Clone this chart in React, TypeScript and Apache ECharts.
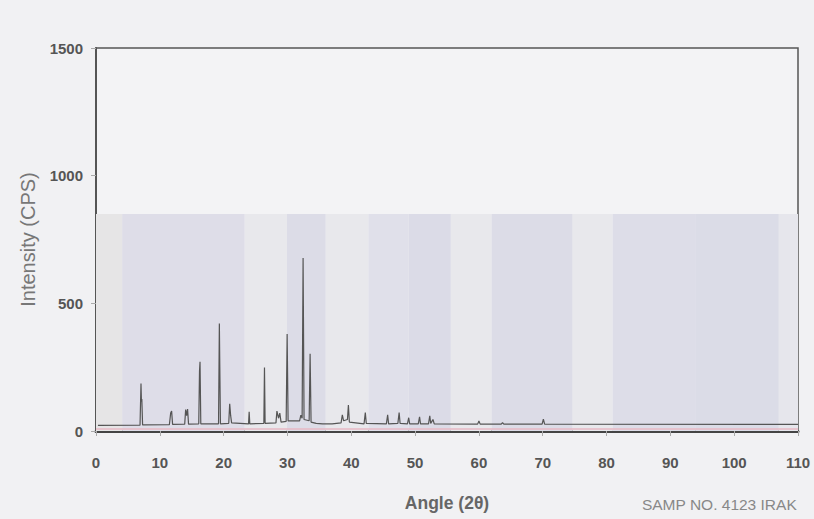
import React, { useEffect, useRef } from "react";
import * as echarts from "echarts";

// Diffraction pattern points (2θ in degrees, intensity in CPS)
const angles = [
  0.3, 6.9, 7.05, 7.12, 7.18, 7.3, 11.5, 11.7, 11.85, 12.0, 13.9, 14.05, 14.2, 14.35, 14.5,
  16.1, 16.22, 16.3, 16.42, 19.2, 19.33, 19.4, 19.5, 20.8, 20.95, 21.1, 21.25, 23.9, 24.0, 24.1,
  26.3, 26.4, 26.5, 28.2, 28.35, 28.6, 28.8, 29.0, 29.8, 29.95, 30.1, 31.9, 32.1, 32.3, 32.45,
  32.6, 33.4, 33.55, 33.7, 34.5, 35.5, 37.0, 38.4, 38.6, 38.8, 39.4, 39.55, 39.7, 42.0, 42.2,
  42.35, 45.5, 45.7, 45.85, 47.3, 47.5, 47.65, 48.8, 49.0, 49.15, 50.5, 50.7, 50.85, 52.1, 52.3,
  52.45, 52.8, 53.0, 59.8, 60.0, 60.2, 63.5, 63.7, 63.9, 69.9, 70.1, 70.3, 110.0,
];
const intensities = [
  22, 23, 186, 115, 125, 24, 25, 70, 78, 26, 27, 84, 60, 86, 27,
  28, 235, 271, 28, 28, 421, 250, 28, 30, 107, 60, 32, 28, 75, 28,
  30, 249, 30, 32, 78, 50, 70, 35, 38, 380, 40, 40, 62, 50, 678,
  45, 40, 303, 35, 30, 28, 28, 32, 63, 40, 45, 102, 35, 28, 72,
  30, 28, 63, 28, 30, 72, 30, 28, 52, 28, 28, 55, 28, 28, 59,
  30, 45, 28, 27, 39, 27, 27, 33, 27, 27, 46, 27, 26,
];
const xTicks = [0, 110, 10];
const yTicks = [0, 1500, 500];
const xTitle = "Angle (2θ)";
const yTitle = "Intensity (CPS)";
const sampleNote = "SAMP NO. 4123 IRAK";

export default function App() {
  const ref = useRef<HTMLDivElement>(null);
  useEffect(() => {
    if (!ref.current) return;
    const chart = echarts.init(ref.current, undefined, { renderer: "svg" });
    const points = angles.map((a, i) => [a, intensities[i]]);
    const bandTop = 850;
    const lav = "#dedde8";
    const light = "#e8e8ec";
    const bands: [number, number, string][] = [
      [0, 4.1, "#e6e5e6"],
      [4.1, 23.3, lav],
      [23.3, 29.9, light],
      [29.9, 36, "#dcdce7"],
      [36, 42.7, light],
      [42.7, 49, "#e0e0ea"],
      [49, 55.6, "#dbdbe7"],
      [55.6, 62, light],
      [62, 74.7, "#dcdce7"],
      [74.7, 81, light],
      [81, 94, "#dddde8"],
      [94, 107, "#dbdce7"],
      [107, 110, "#e6e6ec"],
    ];
    chart.setOption({
      animation: false,
      backgroundColor: "#f1f1f3",
      grid: {
        left: 96,
        right: 16,
        top: 48,
        bottom: 88,
        show: true,
        borderColor: "#555",
        borderWidth: 1.5,
        backgroundColor: "#f3f3f5",
      },
      xAxis: {
        type: "value",
        min: xTicks[0],
        max: xTicks[1],
        interval: xTicks[2],
        name: xTitle,
        nameLocation: "middle",
        nameGap: 63,
        nameTextStyle: { fontFamily: "Liberation Sans, Arial", fontSize: 17.5, fontWeight: "bold", color: "#666" },
        axisLine: { show: true, onZero: false, lineStyle: { color: "#444", width: 3 } },
        axisTick: { show: true, length: 5, lineStyle: { color: "#aaa" } },
        axisLabel: { margin: 24, fontFamily: "Liberation Sans, Arial", fontSize: 15, fontWeight: "bold", color: "#555" },
        splitLine: { show: false },
      },
      yAxis: {
        type: "value",
        min: yTicks[0],
        max: yTicks[1],
        interval: yTicks[2],
        name: yTitle,
        nameLocation: "middle",
        nameGap: 58,
        nameTextStyle: { fontFamily: "Liberation Sans, Arial", fontSize: 20, color: "#777" },
        axisLine: { show: true, lineStyle: { color: "#555", width: 2 } },
        axisTick: { show: true, length: 5, lineStyle: { color: "#aaa" } },
        axisLabel: {
          margin: 13,
          formatter: (v: number) => String(v),
          fontFamily: "Liberation Sans, Arial",
          fontSize: 15,
          fontWeight: "bold",
          color: "#555",
        },
        splitLine: { show: false },
      },
      series: [
        {
          type: "line",
          data: points,
          showSymbol: false,
          lineStyle: { color: "#555", width: 1.2 },
          markArea: {
            silent: true,
            data: bands.map(([a, b, c]) => [
              { xAxis: a, yAxis: 0, itemStyle: { color: c, opacity: 1 } },
              { xAxis: b, yAxis: bandTop },
            ]),
          },
          markLine: {
            silent: true,
            symbol: "none",
            label: { show: false },
            lineStyle: { color: "#e7b8c4", width: 1.5, type: "solid" },
            data: [{ yAxis: 8 }],
          },
          z: 3,
        },
      ],
      graphic: [
        {
          type: "text",
          right: 17,
          top: 496,
          style: { text: sampleNote, fontFamily: "Liberation Sans, Arial", fontSize: 15.5, fill: "#888" },
        },
      ],
    });
    return () => chart.dispose();
  }, []);
  return <div ref={ref} style={{ position: "fixed", left: 0, top: 0, width: 814, height: 519 }} />;
}
